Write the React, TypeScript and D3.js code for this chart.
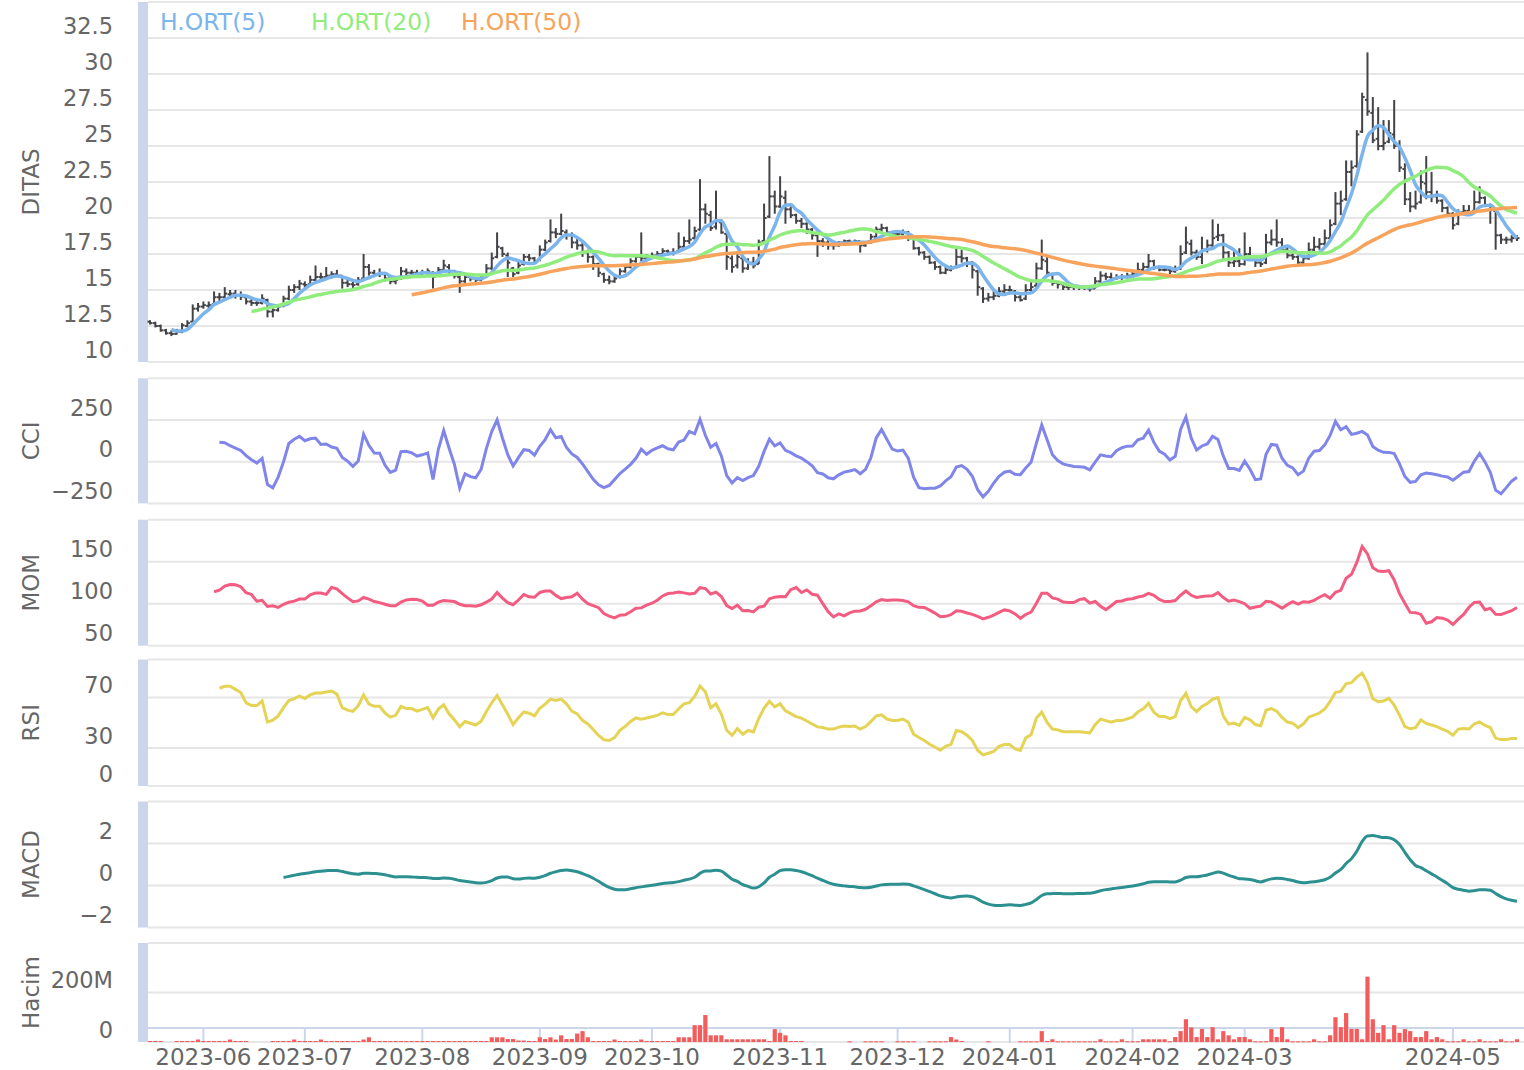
import React from "react";
import * as d3 from "d3";

// ---------------- DATA ----------------
const legendLabels = ["H.ORT(5)", "H.ORT(20)", "H.ORT(50)"];
const maPeriods = [5, 20, 50];
const mainTicks = [10, 12.5, 15, 17.5, 20, 22.5, 25, 27.5, 30, 32.5];
const cciTicks = [-250, 0, 250];
const momTicks = [50, 100, 150];
const rsiTicks = [0, 30, 70];
const macdTicks = [-2, 0, 2];
const volTicks = [0, 200];
const monthLabels = ["2023-06", "2023-07", "2023-08", "2023-09", "2023-10", "2023-11", "2023-12", "2024-01", "2024-02", "2024-03", "2024-05"];
const monthStartIndex = [10, 29, 51, 73, 94, 118, 140, 161, 184, 205, 244];

// [open, high, low, close]
const ohlc: [number, number, number, number][] = [
  [12.8,12.9,12.6,12.7],[12.7,12.8,12.4,12.5],[12.5,12.6,12.1,12.2],[12.2,12.3,11.9,12.0],[12.0,12.2,11.8,11.95],
  [11.95,12.3,11.9,12.1],[12.1,12.7,12.0,12.55],[12.5,12.9,12.4,12.7],[12.8,14.0,12.8,13.7],[13.7,14.1,13.5,13.85],
  [13.85,14.2,13.7,13.95],[13.9,14.2,13.7,13.95],[14.0,14.9,13.9,14.5],[14.5,14.8,14.2,14.5],[14.5,15.2,14.4,14.75],
  [14.7,15.0,14.5,14.75],[14.75,15.0,14.4,14.65],[14.6,14.9,14.3,14.55],[14.5,14.6,14.0,14.2],[14.2,14.4,13.9,14.1],
  [14.1,14.3,13.9,14.1],[14.1,14.7,14.0,14.4],[14.3,14.4,13.1,13.5],[13.5,13.8,13.1,13.6],[13.6,14.0,13.5,13.85],
  [13.9,14.6,13.8,14.4],[14.4,15.3,14.3,15.0],[15.0,15.4,14.8,15.2],[15.2,15.7,15.0,15.45],[15.4,15.6,15.1,15.35],
  [15.4,16.0,15.3,15.7],[15.7,16.7,15.6,15.9],[15.9,16.2,15.6,15.9],[15.9,16.6,15.8,16.0],[16.0,16.3,15.8,16.1],
  [16.1,16.4,15.9,16.0],[16.0,16.0,15.1,15.5],[15.5,15.7,15.2,15.4],[15.4,15.6,15.1,15.35],[15.4,15.9,15.3,15.7],
  [15.8,17.5,15.7,16.6],[16.6,16.8,16.0,16.2],[16.2,16.4,15.9,16.1],[16.1,16.5,15.9,16.1],[16.1,16.2,15.6,15.8],
  [15.8,15.9,15.4,15.6],[15.6,15.9,15.4,15.7],[15.8,16.6,15.7,16.3],[16.3,16.5,16.0,16.2],[16.2,16.4,16.0,16.2],
  [16.2,16.4,15.9,16.1],[16.1,16.4,16.0,16.2],[16.2,16.5,16.0,16.3],[16.2,16.3,15.1,15.9],[16.0,16.6,15.9,16.4],
  [16.4,17.1,16.3,16.7],[16.6,16.8,16.1,16.3],[16.3,16.4,15.8,16.0],[15.9,16.0,14.8,15.6],[15.6,16.1,15.5,15.9],
  [15.9,16.0,15.6,15.8],[15.8,15.9,15.5,15.7],[15.7,16.1,15.6,15.9],[16.0,16.8,15.9,16.5],[16.5,17.6,16.4,17.2],
  [17.3,19.0,17.2,18.0],[17.9,18.0,17.3,17.5],[17.4,17.6,15.9,16.9],[16.5,16.6,15.9,16.1],[16.2,17.1,16.1,16.7],
  [16.8,17.5,16.7,17.3],[17.3,17.5,17.0,17.2],[17.2,17.3,16.8,17.0],[17.1,18.1,17.0,17.8],[17.8,18.5,17.7,18.3],
  [18.4,19.9,18.3,19.0],[19.0,19.3,18.6,18.9],[18.9,20.3,18.8,19.1],[19.0,19.2,18.5,18.8],[18.8,19.0,17.9,18.3],
  [18.3,18.6,17.8,18.1],[18.1,18.3,17.3,17.6],[17.6,17.8,16.9,17.3],[17.3,17.4,16.4,16.8],[16.8,16.9,15.9,16.2],
  [16.1,16.2,15.5,15.7],[15.7,16.0,15.4,15.6],[15.6,16.1,15.5,15.8],[15.9,16.5,15.8,16.3],[16.3,16.8,16.2,16.6],
  [16.6,17.2,16.5,17.0],[17.0,17.5,16.9,17.3],[17.3,19.0,17.0,17.2],[17.2,17.5,17.0,17.3],[17.3,17.6,17.2,17.4],
  [17.4,17.7,17.3,17.5],[17.5,17.9,17.4,17.7],[17.7,17.8,17.4,17.6],[17.6,17.9,17.4,17.6],[17.7,19.0,17.6,18.0],
  [18.0,18.7,17.9,18.4],[18.4,19.9,18.2,18.5],[18.6,19.4,18.5,19.1],[19.2,22.7,19.1,20.6],[20.6,21.0,19.6,20.3],
  [20.2,20.5,19.1,19.3],[19.4,21.9,19.2,19.8],[19.7,19.9,18.9,19.0],[18.9,18.9,16.4,17.3],[17.2,17.4,16.2,16.6],
  [16.7,17.6,16.5,17.3],[17.2,17.3,16.2,16.5],[16.5,17.2,16.4,16.9],[16.9,17.3,16.5,16.7],[16.8,18.5,16.8,18.3],
  [18.4,21.0,18.3,20.0],[20.1,24.3,20.0,21.5],[21.5,21.9,20.3,20.8],[20.8,22.9,20.7,21.5],[21.4,21.9,19.6,20.6],
  [20.6,20.8,20.0,20.2],[20.2,20.3,19.6,19.8],[19.8,20.0,19.3,19.6],[19.6,19.7,18.9,19.2],[19.2,19.3,18.5,18.8],
  [18.8,18.9,17.3,18.4],[18.4,18.6,18.0,18.3],[18.3,18.5,17.8,18.1],[18.1,18.3,17.8,18.1],[18.1,18.4,18.0,18.3],
  [18.3,18.5,18.2,18.4],[18.4,18.5,18.2,18.35],[18.35,18.5,18.2,18.4],[18.4,18.4,17.6,18.1],[18.1,18.4,18.0,18.3],
  [18.3,18.9,18.2,18.7],[18.7,19.4,18.6,19.2],[19.2,19.6,19.0,19.3],[19.3,19.4,18.9,19.0],[19.0,19.1,18.7,18.9],
  [18.9,19.1,18.7,18.9],[18.9,19.2,18.8,19.0],[19.0,19.1,18.4,18.8],[18.7,18.8,17.8,17.9],[17.9,18.0,17.4,17.6],
  [17.6,17.7,17.1,17.3],[17.3,17.4,16.8,16.9],[16.9,17.0,16.4,16.6],[16.6,16.7,16.1,16.2],[16.2,16.6,16.1,16.4],
  [16.4,16.7,16.3,16.5],[16.6,18.0,16.5,17.3],[17.3,17.8,16.9,17.2],[17.2,17.3,16.6,16.9],[16.9,17.0,15.8,16.4],
  [16.3,16.4,14.6,15.2],[15.1,15.2,14.1,14.4],[14.4,14.8,14.2,14.5],[14.5,15.0,14.3,14.6],[14.6,15.2,14.5,14.9],
  [14.9,15.4,14.7,15.0],[15.0,15.3,14.7,15.0],[14.9,15.0,14.2,14.5],[14.5,14.7,14.2,14.3],[14.4,15.4,14.3,15.0],
  [15.0,15.6,14.9,15.2],[15.3,16.9,15.2,16.5],[16.5,18.5,16.4,17.1],[17.0,17.3,16.0,16.2],[16.1,16.2,15.3,15.5],
  [15.5,15.6,15.1,15.4],[15.4,15.5,15.0,15.2],[15.2,15.4,15.0,15.2],[15.2,15.3,15.0,15.2],[15.2,15.3,15.0,15.2],
  [15.2,15.3,15.0,15.15],[15.1,15.2,14.9,15.1],[15.1,15.9,15.1,15.6],[15.6,16.3,15.5,16.0],[16.0,16.2,15.7,15.9],
  [15.9,16.2,15.6,15.8],[15.8,16.1,15.7,15.9],[15.9,16.1,15.7,15.9],[15.9,16.2,15.8,16.0],[16.0,16.3,15.9,16.1],
  [16.1,16.9,16.0,16.4],[16.4,16.9,16.3,16.6],[16.6,17.5,16.5,17.0],[17.0,17.1,16.4,16.6],[16.6,16.7,16.3,16.4],
  [16.4,16.6,16.3,16.4],[16.4,16.5,16.1,16.3],[16.3,16.7,16.2,16.4],[16.5,18.1,16.4,17.5],[17.6,19.4,17.5,18.3],
  [18.2,18.5,17.4,17.6],[17.6,17.8,17.1,17.3],[17.3,18.7,16.8,17.8],[17.8,18.5,17.6,18.1],[18.1,19.9,18.0,18.6],
  [18.7,19.6,18.4,18.8],[18.8,18.9,17.1,17.6],[17.6,17.7,16.6,16.9],[16.9,17.8,16.6,17.0],[17.0,17.9,16.6,16.8],
  [16.8,19.0,16.7,17.5],[17.5,18.0,17.1,17.3],[17.3,17.4,16.6,16.9],[16.9,17.2,16.6,16.8],[16.9,18.9,16.8,18.3],
  [18.3,19.2,18.1,18.5],[18.5,19.9,18.0,18.3],[18.3,18.6,17.6,17.8],[17.8,18.0,17.2,17.4],[17.4,17.6,17.1,17.3],
  [17.3,17.4,16.6,16.9],[16.9,17.4,16.8,17.2],[17.2,18.3,17.1,17.8],[17.8,18.7,17.6,18.0],[18.0,18.6,17.8,18.2],
  [18.2,19.2,18.0,18.6],[18.6,19.9,18.5,19.5],[19.6,21.8,19.5,21.0],[21.0,21.9,20.2,21.2],[21.3,24.0,21.2,23.2],
  [23.2,24.0,22.2,23.5],[23.6,26.1,23.5,25.8],[26.0,28.7,25.9,28.4],[28.2,31.5,27.1,27.4],[27.3,28.4,25.2,25.4],
  [25.5,27.7,24.7,25.0],[25.0,26.8,24.7,25.2],[25.3,26.8,25.2,25.9],[25.8,28.2,24.8,25.0],[25.0,25.4,23.2,23.5],
  [23.4,23.8,20.9,21.3],[21.3,21.8,20.4,20.8],[20.8,21.9,20.6,21.0],[21.1,23.3,21.0,22.5],[22.4,24.3,21.3,21.8],
  [21.8,23.2,21.1,21.5],[21.5,21.9,21.0,21.2],[21.2,21.3,20.4,20.7],[20.7,20.8,20.1,20.3],[20.3,20.4,19.2,19.5],
  [19.6,20.6,19.5,20.4],[20.4,20.9,20.3,20.5],[20.5,20.9,20.3,20.4],[20.5,21.9,20.4,21.1],[21.1,22.2,21.0,21.4],
  [21.4,21.5,20.8,20.9],[20.9,21.0,19.6,20.6],[20.5,20.6,17.8,18.8],[18.8,18.9,18.2,18.5],[18.5,18.7,18.2,18.5],
  [18.5,18.8,18.3,18.6],[18.6,18.8,18.4,18.6],
];

// volume, millions
const volumeM = [
  4,4,4,0,0,4,4,4,4,10, 4,4,4,4,4,10,4,4,4,0, 0,0,0,4,4,4,4,10,4,4, 4,4,10,4,4,4,4,4,4,4,
  10,19,4,4,4,4,4,4,4,4, 4,4,4,4,4,4,4,4,4,4, 4,4,4,4,19,19,19,12,12,6, 6,4,4,19,12,19,10,27,12,12,
  34,44,19,4,4,4,4,10,4,4, 4,4,10,4,4,4,4,4,4,19, 19,19,68,68,109,27,27,27,11,11, 11,11,11,11,11,11,4,52,37,27,
  4,4,4,0,0,0,0,0,0,0, 0,3,0,0,3,3,3,3,0,0, 3,3,3,3,0,0,3,3,3,3, 20,10,4,0,0,0,0,3,0,0,
  0,0,0,3,3,3,3,44,4,11, 3,3,3,3,3,3,3,3,11,3, 3,3,11,3,3,3,11,11,11,11, 11,3,20,44,92,59,20,53,20,60,
  11,44,27,11,20,20,11,3,3,3, 52,20,60,11,3,3,3,3,11,3, 3,27,100,60,117,53,53,11,264,92, 37,68,11,68,37,52,44,20,20,44,
  11,20,11,3,3,3,11,3,3,11, 3,3,3,11,3,3,11,
];

// ---------------- INDICATORS ----------------
function sma(arr: number[], p: number): (number | null)[] {
  return arr.map((_, i) => (i < p - 1 ? null : (d3.mean(arr.slice(i - p + 1, i + 1)) as number)));
}
function cciCalc(h: number[], l: number[], c: number[], p: number): (number | null)[] {
  const tp = c.map((v, i) => (h[i] + l[i] + v) / 3);
  return tp.map((v, i) => {
    if (i < p - 1) return null;
    const w = tp.slice(i - p + 1, i + 1);
    const m = d3.mean(w) as number;
    const md = d3.mean(w, (t) => Math.abs(t - m)) as number;
    return md === 0 ? 0 : (v - m) / (0.015 * md);
  });
}
function rsiCalc(c: number[], p: number): (number | null)[] {
  const out: (number | null)[] = c.map(() => null);
  const first = p - 1;
  let ag = 0, al = 0;
  for (let i = 1; i <= first; i++) {
    const d = c[i] - c[i - 1];
    if (d > 0) ag += d; else al -= d;
  }
  ag /= first; al /= first;
  out[first] = al === 0 ? 100 : 100 - 100 / (1 + ag / al);
  for (let i = first + 1; i < c.length; i++) {
    const d = c[i] - c[i - 1];
    ag = (ag * (p - 1) + (d > 0 ? d : 0)) / p;
    al = (al * (p - 1) + (d < 0 ? -d : 0)) / p;
    out[i] = al === 0 ? 100 : 100 - 100 / (1 + ag / al);
  }
  return out;
}
function emaCalc(c: number[], p: number): (number | null)[] {
  const out: (number | null)[] = c.map(() => null);
  const k = 2 / (p + 1);
  let prev = d3.mean(c.slice(0, p)) as number;
  out[p - 1] = prev;
  for (let i = p; i < c.length; i++) {
    prev = c[i] * k + prev * (1 - k);
    out[i] = prev;
  }
  return out;
}

const FONT = "'DejaVu Sans', Verdana, sans-serif";
const GRID = "#e6e6e6";
const AXIS = "#ccd6eb";
const LABEL = "#666666";
const X_LEFT = 148;
const X_RIGHT = 1524;

type Panel = {
  title: string;
  top: number;
  bottom: number;
  domain: [number, number];
  ticks: number[];
  fmt: (v: number) => string;
};

export default function App() {
  const n = ohlc.length;
  const x = d3.scaleLinear().domain([0, n - 1]).range([150, 1517]);
  const close = ohlc.map((d) => d[3]);
  const high = ohlc.map((d) => d[1]);
  const low = ohlc.map((d) => d[2]);

  const mas = maPeriods.map((p) => sma(close, p));
  const cci = cciCalc(high, low, close, 14);
  const mom = close.map((c, i) => (i >= 12 ? (100 * c) / close[i - 12] : null));
  const rsi = rsiCalc(close, 14);
  const e12 = emaCalc(close, 12);
  const e26 = emaCalc(close, 26);
  const macd = close.map((_, i) => (e26[i] != null && e12[i] != null ? (e12[i] as number) - (e26[i] as number) : null));

  const minus = (v: number) => (v < 0 ? "\u2212" + Math.abs(v) : String(v));
  const panels: Panel[] = [
    { title: "DITAS", top: 2, bottom: 362, domain: [10, 35], ticks: mainTicks, fmt: (v) => String(v) },
    { title: "CCI", top: 378.3, bottom: 503.4, domain: [-250, 500], ticks: cciTicks, fmt: minus },
    { title: "MOM", top: 519.7, bottom: 645.7, domain: [50, 200], ticks: momTicks, fmt: minus },
    { title: "RSI", top: 659.5, bottom: 786, domain: [0, 100], ticks: rsiTicks, fmt: minus },
    { title: "MACD", top: 801.5, bottom: 927.5, domain: [-2, 4], ticks: macdTicks, fmt: minus },
    { title: "Hacim", top: 943, bottom: 1042, domain: [0, 400], ticks: volTicks, fmt: (v) => (v === 0 ? "0" : v + "M") },
  ];
  const scales = panels.map((p) => d3.scaleLinear().domain(p.domain).range([p.bottom, p.top]));
  const [yMain, yCci, yMom, yRsi, yMacd, yVol] = scales;

  const lineGen = (y: d3.ScaleLinear<number, number>, curve: d3.CurveFactory) =>
    d3
      .line<number | null>()
      .defined((v) => v != null && isFinite(v as number))
      .x((_, i) => x(i))
      .y((v) => y(v as number))
      .curve(curve);

  const maColors = ["#7cb5ec", "#90ed7d", "#f7a35c"];
  const legendX = [160, 311, 461];

  return (
    <svg
      width={1524}
      height={1070}
      style={{ position: "absolute", left: 0, top: 0, background: "#fff" }}
      fontFamily={FONT}
    >
      <rect x={0} y={0} width={1524} height={1070} fill="#fff" />
      {panels.map((p, pi) => {
        const y = scales[pi];
        return (
          <g key={p.title}>
            <rect x={138} y={p.top} width={10} height={p.bottom - p.top} fill={AXIS} />
            <line x1={X_LEFT} x2={X_RIGHT} y1={p.top} y2={p.top} stroke={GRID} strokeWidth={2} />
            <line x1={X_LEFT} x2={X_RIGHT} y1={p.bottom} y2={p.bottom} stroke={GRID} strokeWidth={2} />
            {p.ticks.map((t) => (
              <g key={t}>
                {t !== p.domain[0] && (
                  <line x1={X_LEFT} x2={X_RIGHT} y1={y(t)} y2={y(t)} stroke={GRID} strokeWidth={2} />
                )}
                <text x={113} y={y(t) - 11} textAnchor="end" dominantBaseline="middle" fontSize={22.5} fill={LABEL}>
                  {p.fmt(t)}
                </text>
              </g>
            ))}
            <text
              transform={`translate(32,${(p.top + p.bottom) / 2}) rotate(-90)`}
              textAnchor="middle"
              dominantBaseline="middle"
              fontSize={23}
              fill={LABEL}
            >
              {p.title}
            </text>
          </g>
        );
      })}

      {/* OHLC bars */}
      <g stroke="#434348" strokeWidth={2}>
        {ohlc.map((d, i) => {
          const cx = x(i);
          return (
            <g key={i}>
              <line x1={cx} x2={cx} y1={yMain(d[1])} y2={yMain(d[2])} />
              <line x1={cx - 2.5} x2={cx} y1={yMain(d[0])} y2={yMain(d[0])} />
              <line x1={cx} x2={cx + 2.5} y1={yMain(d[3])} y2={yMain(d[3])} />
            </g>
          );
        })}
      </g>
      {mas.map((m, k) => (
        <path key={k} d={lineGen(yMain, d3.curveMonotoneX)(m) || ""} fill="none" stroke={maColors[k]} strokeWidth={3.5} />
      ))}
      {legendLabels.map((l, k) => (
        <text key={l} x={legendX[k]} y={23} dominantBaseline="middle" fontSize={23.5} fill={maColors[k]}>
          {l}
        </text>
      ))}

      <path d={lineGen(yCci, d3.curveLinear)(cci) || ""} fill="none" stroke="#8085e9" strokeWidth={3} />
      <path d={lineGen(yMom, d3.curveLinear)(mom) || ""} fill="none" stroke="#f15c80" strokeWidth={3} />
      <path d={lineGen(yRsi, d3.curveLinear)(rsi) || ""} fill="none" stroke="#e4d354" strokeWidth={3} />
      <path d={lineGen(yMacd, d3.curveMonotoneX)(macd) || ""} fill="none" stroke="#2b908f" strokeWidth={3} />

      {/* volume */}
      <line x1={X_LEFT} x2={X_RIGHT} y1={1028} y2={1028} stroke={AXIS} strokeWidth={2} />
      {monthStartIndex.map((mi, k) => (
        <line key={k} x1={x(mi)} x2={x(mi)} y1={1028} y2={1043} stroke={AXIS} strokeWidth={2} />
      ))}
      <g fill="#f45b5b">
        {volumeM.map((v, i) =>
          v > 0 ? (
            <rect key={i} x={x(i) - 2.1} width={4.2} y={yVol(v)} height={Math.max(1, 1042 - yVol(v))} />
          ) : null
        )}
      </g>
      {monthStartIndex.map((mi, k) => (
        <text key={k} x={x(mi)} y={1058} textAnchor="middle" dominantBaseline="middle" fontSize={23} fill={LABEL}>
          {monthLabels[k]}
        </text>
      ))}
    </svg>
  );
}
